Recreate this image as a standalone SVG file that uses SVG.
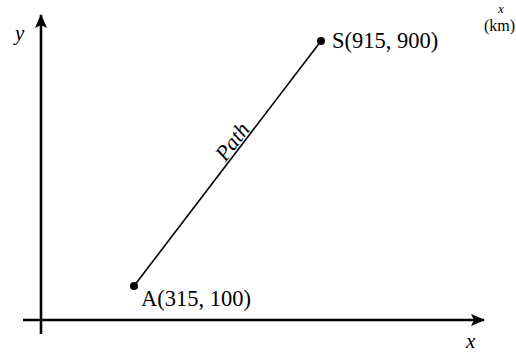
<svg xmlns="http://www.w3.org/2000/svg" width="516" height="352" viewBox="0 0 516 352">
<style>
.t{font-family:"Liberation Serif","Times New Roman",serif;fill:#000}
.i{font-style:italic}
.ax{stroke:#000;stroke-width:2.6;fill:none}
</style>
<defs>
<marker id="ah" viewBox="0 0 14 12" refX="13" refY="6" markerWidth="14" markerHeight="12" markerUnits="userSpaceOnUse" orient="auto">
<path d="M0,0 L14,6 L0,12 L3,6 Z" fill="#000"/>
</marker>
</defs>
<rect width="516" height="352" fill="#fff"/>
<g id="connectors">
<line class="ax" x1="41" y1="334" x2="41" y2="15" marker-end="url(#ah)"/>
<line class="ax" x1="23" y1="320" x2="484" y2="320" marker-end="url(#ah)"/>
<line x1="134" y1="286" x2="321" y2="41" stroke="#000" stroke-width="1.6"/>
</g>
<g id="nodeA">
<circle cx="134" cy="286" r="4" fill="#000"/>
<text class="t" x="141" y="306" font-size="22.5">A(315, 100)</text>
</g>
<g id="nodeS">
<circle cx="321" cy="41" r="4" fill="#000"/>
<text class="t" x="332" y="48" font-size="22.5">S(915, 900)</text>
</g>
<g id="labels">
<text class="t i" x="238" y="146" font-size="22" text-anchor="middle" transform="rotate(-52.6 238 146)">Path</text>
<text class="t i" x="15" y="40" font-size="21">y</text>
<text class="t i" x="466" y="348" font-size="21">x</text>
<text class="t i" x="498" y="13" font-size="13">x</text>
<text class="t" x="484" y="31" font-size="16">(km)</text>
</g>
</svg>
